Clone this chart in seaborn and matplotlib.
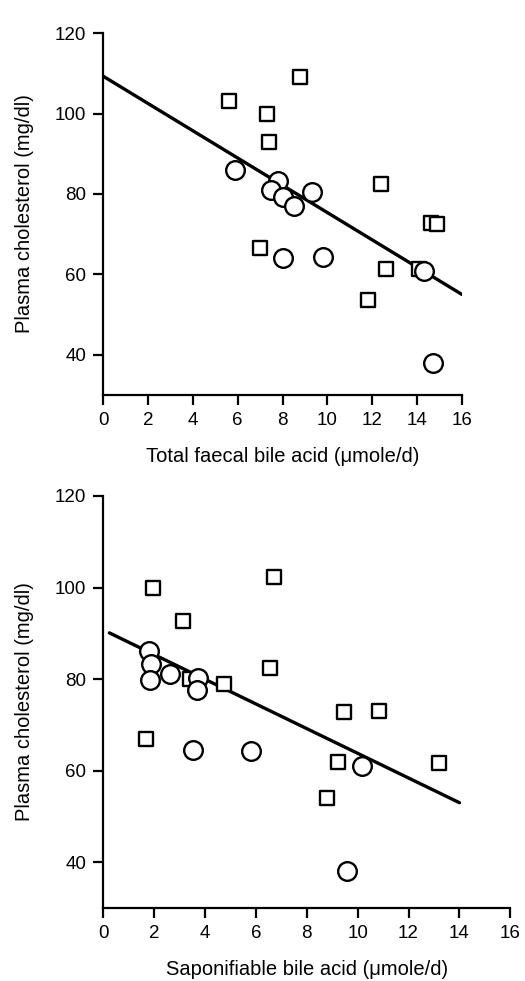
import matplotlib
matplotlib.use("Agg")
import matplotlib.pyplot as plt
import seaborn as sns
import pandas as pd
import numpy as np

# ---- Data: top panel (total faecal bile acid) ----
top_sq_x = [5.6, 7.3, 7.4, 8.8, 7.0, 12.4, 14.6, 14.9, 12.6, 14.1, 11.8]
top_sq_y = [103, 100, 93, 109, 66.5, 82.4, 72.8, 72.5, 61.3, 61.3, 53.6]
top_ci_x = [5.9, 7.8, 7.5, 8.0, 8.5, 9.3, 8.0, 9.8, 14.3, 14.7]
top_ci_y = [86, 83.3, 81, 79.3, 77.1, 80.4, 64.1, 64.2, 60.9, 37.9]
top_line_x = [0.0, 16.0]
top_line_y = [109.3, 55.0]

# ---- Data: bottom panel (saponifiable bile acid) ----
bot_sq_x = [1.95, 3.15, 6.7, 6.55, 3.42, 4.74, 1.7, 9.46, 10.85, 9.24, 13.19, 8.8]
bot_sq_y = [100, 92.7, 102.2, 82.5, 80.0, 79.0, 67.0, 72.8, 73.0, 61.9, 61.7, 54.0]
bot_ci_x = [1.81, 1.88, 1.85, 2.65, 3.74, 3.68, 3.55, 5.8, 10.17, 9.59]
bot_ci_y = [86.1, 83.2, 79.7, 81.1, 80.3, 77.7, 64.6, 64.4, 61.1, 38.1]
bot_line_x = [0.25, 14.0]
bot_line_y = [90.1, 53.0]

x_ticks = [0, 2, 4, 6, 8, 10, 12, 14, 16]
y_ticks = [40, 60, 80, 100, 120]
ylabel = "Plasma cholesterol (mg/dl)"
xlabel_top = "Total faecal bile acid (\u03bcmole/d)"
xlabel_bot = "Saponifiable bile acid (\u03bcmole/d)"

sns.set_theme(style="ticks")
plt.rcParams['font.family'] = ['Liberation Sans', 'DejaVu Sans']

fig = plt.figure(figsize=(5.25, 9.81), dpi=100)
ax1 = fig.add_axes([0.1962, 0.5973, 0.6838, 0.3690])
ax2 = fig.add_axes([0.1962, 0.0744, 0.7760, 0.4200])


def make_df(sx, sy, cx, cy):
    return pd.DataFrame({
        "x": list(sx) + list(cx),
        "y": list(sy) + list(cy),
        "g": ["sq"] * len(sx) + ["ci"] * len(cx),
    })


def draw(ax, sx, sy, cx, cy, lx, ly, xlabel):
    line_df = pd.DataFrame({"x": lx, "y": ly})
    sns.lineplot(data=line_df, x="x", y="y", ax=ax, color="black", lw=2.4,
                 zorder=2, legend=False)
    df = make_df(sx, sy, cx, cy)
    sq = df[df.g == "sq"]
    ci = df[df.g == "ci"]
    sns.scatterplot(data=sq, x="x", y="y", ax=ax, marker="s", s=105,
                    facecolor="white", edgecolor="black", linewidth=1.7,
                    zorder=3, legend=False)
    sns.scatterplot(data=ci, x="x", y="y", ax=ax, marker="o", s=180,
                    facecolor="white", edgecolor="black", linewidth=1.7,
                    zorder=4, legend=False)
    ax.set_xlim(0, 16)
    ax.set_ylim(30, 120)
    ax.set_xticks(x_ticks)
    ax.set_yticks(y_ticks)
    ax.set_xticklabels([str(t) for t in x_ticks])
    ax.set_yticklabels([str(t) for t in y_ticks])
    for s in ["top", "right"]:
        ax.spines[s].set_visible(False)
    for s in ["left", "bottom"]:
        ax.spines[s].set_linewidth(1.6)
        ax.spines[s].set_color("black")
    ax.tick_params(direction="out", length=7, width=1.6, color="black",
                   labelsize=13.5, pad=5, labelcolor="black")
    ax.set_xlabel(xlabel, fontsize=14.5, labelpad=13, color="black")
    ax.set_ylabel(ylabel, fontsize=14.5, labelpad=15, color="black")
    for c in ax.collections:
        c.set_clip_on(False)


draw(ax1, top_sq_x, top_sq_y, top_ci_x, top_ci_y, top_line_x, top_line_y, xlabel_top)
draw(ax2, bot_sq_x, bot_sq_y, bot_ci_x, bot_ci_y, bot_line_x, bot_line_y, xlabel_bot)

fig.savefig("out.png", dpi=100, facecolor="white")
